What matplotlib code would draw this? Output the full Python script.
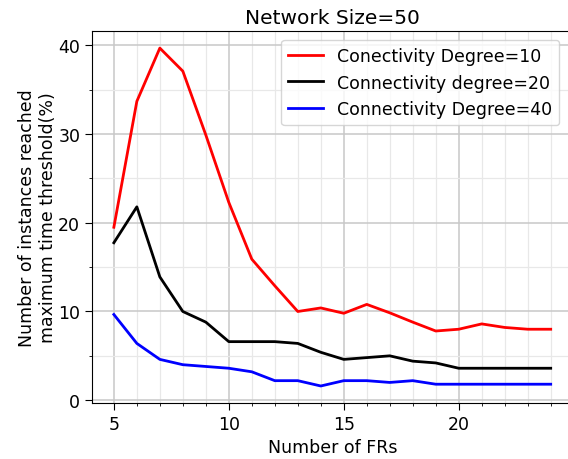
import matplotlib
matplotlib.use('Agg')
import matplotlib.pyplot as plt
from matplotlib.ticker import MultipleLocator

frs = list(range(5, 25))
deg10 = [19.5, 33.7, 39.7, 37.1, 29.9, 22.3, 15.9, 12.9, 10.0, 10.4, 9.8,
         10.8, 9.85, 8.8, 7.8, 8.0, 8.6, 8.2, 8.0, 8.0]
deg20 = [17.75, 21.8, 13.9, 10.0, 8.8, 6.6, 6.6, 6.6, 6.4, 5.4, 4.6,
         4.8, 5.0, 4.4, 4.2, 3.6, 3.6, 3.6, 3.6, 3.6]
deg40 = [9.66, 6.4, 4.6, 4.0, 3.8, 3.6, 3.2, 2.2, 2.2, 1.6, 2.2,
         2.2, 2.0, 2.2, 1.8, 1.8, 1.8, 1.8, 1.8, 1.8]

fig = plt.figure(figsize=(5.68, 4.6), dpi=100)
ax = fig.add_axes([0.162, 0.122, 0.846, 0.808])

ax.plot(frs, deg10, color='red', lw=2, label='Conectivity Degree=10')
ax.plot(frs, deg20, color='black', lw=2, label='Connectivity degree=20')
ax.plot(frs, deg40, color='blue', lw=2, label='Connectivity Degree=40')

ax.xaxis.set_major_locator(MultipleLocator(5))
ax.xaxis.set_minor_locator(MultipleLocator(1))
ax.yaxis.set_major_locator(MultipleLocator(10))
ax.yaxis.set_minor_locator(MultipleLocator(5))
ax.grid(which='major', color='#c8c8c8', lw=1.1)
ax.grid(which='minor', color='#e8e8e8', lw=0.9)
ax.set_axisbelow(True)
ax.tick_params(labelsize=12.5, length=5)

ax.set_title('Network Size=50', fontsize=14.5)
ax.set_xlabel('Number of FRs', fontsize=12.5)
ax.set_ylabel('Number of instances reached\nmaximum time threshold(%)', fontsize=12.5, labelpad=1)
ax.legend(fontsize=12.5, loc='upper right', bbox_to_anchor=(0.99, 1.0))

fig.savefig('out.png', dpi=100)
